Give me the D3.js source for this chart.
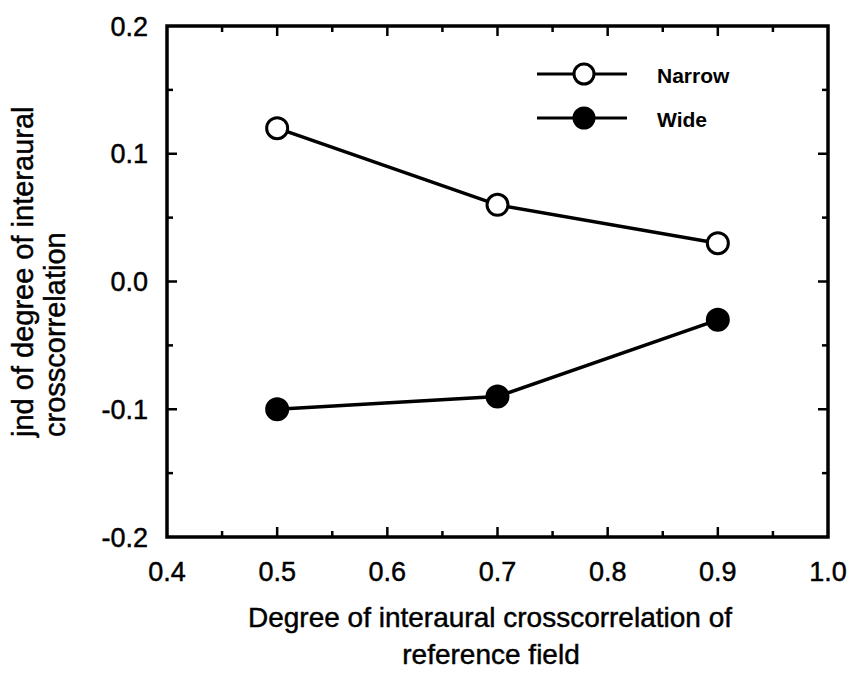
<!DOCTYPE html>
<html><head><meta charset="utf-8">
<script src="https://cdn.jsdelivr.net/npm/d3@7"></script>
<style>body{margin:0;background:#fff}svg{display:block}text{font-family:"Liberation Sans",Arial,sans-serif;fill:#000;stroke:#000;stroke-width:0.45px}</style>
</head><body>
<svg id="c" width="855" height="674"></svg>
<script>
const xValues = [0.5, 0.7, 0.9];
const narrowValues = [0.12, 0.06, 0.03];
const wideValues = [-0.10, -0.09, -0.03];
const seriesNames = ["Narrow", "Wide"];
const xTicks = [0.4, 0.5, 0.6, 0.7, 0.8, 0.9, 1.0];
const yTicks = [0.2, 0.1, 0.0, -0.1, -0.2];

const svg = d3.select("#c");
const L = 167, R = 828, T = 26, B = 537;
const x = d3.scaleLinear().domain([0.4, 1.0]).range([L, R]);
const y = d3.scaleLinear().domain([-0.2, 0.2]).range([B, T]);

// frame
svg.append("rect").attr("x", L).attr("y", T).attr("width", R - L).attr("height", B - T)
  .attr("fill", "none").attr("stroke", "#000").attr("stroke-width", 3.5);

const minorX = d3.range(0.45, 1.0, 0.1);
const minorY = d3.range(-0.15, 0.2, 0.1);

// inward ticks
const g = svg.append("g").attr("stroke", "#000").attr("stroke-width", 2.5);
xTicks.slice(1, -1).forEach(v => {
  g.append("line").attr("x1", x(v)).attr("x2", x(v)).attr("y1", B).attr("y2", B - 10);
  g.append("line").attr("x1", x(v)).attr("x2", x(v)).attr("y1", T).attr("y2", T + 10);
});
minorX.forEach(v => {
  g.append("line").attr("x1", x(v)).attr("x2", x(v)).attr("y1", B).attr("y2", B - 6);
  g.append("line").attr("x1", x(v)).attr("x2", x(v)).attr("y1", T).attr("y2", T + 6);
});
yTicks.slice(1, -1).forEach(v => {
  g.append("line").attr("y1", y(v)).attr("y2", y(v)).attr("x1", L).attr("x2", L + 10);
  g.append("line").attr("y1", y(v)).attr("y2", y(v)).attr("x1", R).attr("x2", R - 10);
});
minorY.forEach(v => {
  g.append("line").attr("y1", y(v)).attr("y2", y(v)).attr("x1", L).attr("x2", L + 6);
  g.append("line").attr("y1", y(v)).attr("y2", y(v)).attr("x1", R).attr("x2", R - 6);
});

// tick labels
xTicks.forEach(v => {
  svg.append("text").attr("x", x(v)).attr("y", B + 44).attr("text-anchor", "middle")
    .attr("font-size", 27).text(v.toFixed(1));
});
yTicks.forEach(v => {
  svg.append("text").attr("x", 148).attr("y", y(v) + 9.5).attr("text-anchor", "end")
    .attr("font-size", 27).text(v.toFixed(1));
});

// axis titles
svg.append("text").attr("x", 490).attr("y", 627).attr("text-anchor", "middle").attr("font-size", 28)
  .text("Degree of interaural crosscorrelation of");
svg.append("text").attr("x", 491).attr("y", 664).attr("text-anchor", "middle").attr("font-size", 28)
  .text("reference field");
const yt = svg.append("g").attr("transform", "translate(0,437) rotate(-90)");
yt.append("text").attr("x", 0).attr("y", 33).attr("font-size", 29).text("jnd of degree of interaural");
yt.append("text").attr("x", 0).attr("y", 65).attr("font-size", 29).text("crosscorrelation");

// series
const line = d3.line().x(d => x(d[0])).y(d => y(d[1]));
const series = [
  { name: seriesNames[0], vals: narrowValues, fill: "#fff" },
  { name: seriesNames[1], vals: wideValues, fill: "#000" }
];
series.forEach(s => {
  const pts = xValues.map((xv, i) => [xv, s.vals[i]]);
  svg.append("path").attr("d", line(pts)).attr("fill", "none").attr("stroke", "#000").attr("stroke-width", 3.5);
  svg.selectAll(null).data(pts).enter().append("circle")
    .attr("cx", d => x(d[0])).attr("cy", d => y(d[1])).attr("r", 10.5)
    .attr("fill", s.fill).attr("stroke", "#000").attr("stroke-width", 3);
});

// legend
series.forEach((s, i) => {
  const ly = 74 + i * 44;
  svg.append("line").attr("x1", 537).attr("x2", 627).attr("y1", ly).attr("y2", ly)
    .attr("stroke", "#000").attr("stroke-width", 3);
  svg.append("circle").attr("cx", 584).attr("cy", ly).attr("r", 10)
    .attr("fill", s.fill).attr("stroke", "#000").attr("stroke-width", 3);
  svg.append("text").attr("x", 657).attr("y", ly + 9).attr("font-size", 21).attr("font-weight", "bold")
    .style("stroke-width", 0).text(s.name);
});
</script>
</body></html>
